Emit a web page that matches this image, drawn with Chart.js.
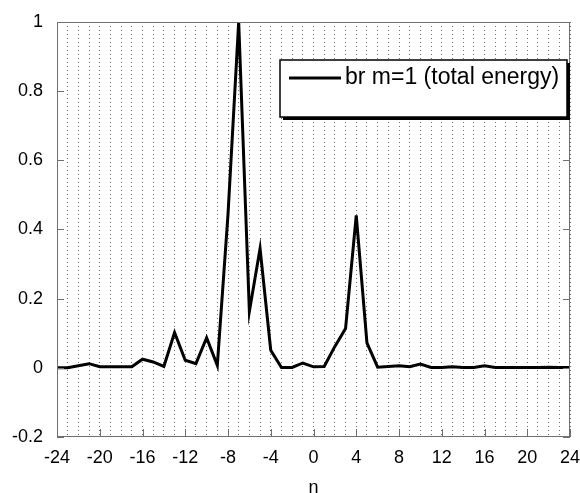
<!DOCTYPE html>
<html>
<head>
<meta charset="utf-8">
<script src="https://cdn.jsdelivr.net/npm/chart.js@4.4.1/dist/chart.umd.min.js"></script>
<style>
  html, body { margin: 0; padding: 0; background: #fff; overflow: hidden; }
  canvas { display: block; }
</style>
</head>
<body>
<canvas id="chart" width="580" height="493"></canvas>
<script>
// Energy spectrum of br, m=1, against mode number n.

const N_VALUES = [
  -24, -23, -22, -21, -20, -19, -18, -17, -16, -15, -14, -13, -12,
  -11, -10, -9, -8, -7, -6, -5, -4, -3, -2, -1, 0,
  1, 2, 3, 4, 5, 6, 7, 8, 9, 10, 11, 12,
  13, 14, 15, 16, 17, 18, 19, 20, 21, 22, 23, 24,
];
const ENERGY = [
  0.000, 0.000, 0.006, 0.012, 0.003, 0.003, 0.003, 0.003, 0.025, 0.017, 0.004, 0.102, 0.022,
  0.012, 0.087, 0.007, 0.444, 1.000, 0.163, 0.345, 0.051, 0.001, 0.001, 0.014, 0.003,
  0.004, 0.062, 0.114, 0.441, 0.072, 0.002, 0.004, 0.006, 0.003, 0.011, 0.001, 0.001,
  0.003, 0.001, 0.001, 0.006, 0.001, 0.001, 0.001, 0.001, 0.001, 0.002, 0.001, 0.001,
];
const X_LABEL_TICKS = [-24, -20, -16, -12, -8, -4, 0, 4, 8, 12, 16, 20, 24];
const Y_TICKS = [-0.2, 0, 0.2, 0.4, 0.6, 0.8, 1];
const SERIES_LABEL = "br m=1 (total energy)";

const FONT = '"Liberation Sans", Arial, sans-serif';
const FRAME = "#707070";
const GRID_DOT = "#6a6a6a";

Chart.defaults.font.family = FONT;
Chart.defaults.color = "#000";

// frame, inward tick marks and the boxed legend with its drop shadow
const framePlugin = {
  id: "frame",
  afterDatasetsDraw(chart) {
    const { ctx, chartArea: a } = chart;
    const xs = chart.scales.x, ys = chart.scales.y;
    ctx.save();
    ctx.strokeStyle = FRAME;
    ctx.lineWidth = 1;
    ctx.strokeRect(a.left + 0.5, a.top + 0.5, a.right - a.left - 1, a.bottom - a.top - 1);
    ctx.beginPath();
    Y_TICKS.forEach(v => {
      const y = Math.round(ys.getPixelForValue(v)) + 0.5;
      ctx.moveTo(a.left, y); ctx.lineTo(a.left + 7, y);
      ctx.moveTo(a.right, y); ctx.lineTo(a.right - 7, y);
    });
    X_LABEL_TICKS.forEach(v => {
      const x = Math.round(xs.getPixelForValue(v)) + 0.5;
      ctx.moveTo(x, a.bottom); ctx.lineTo(x, a.bottom - 8);
    });
    ctx.stroke();
    ctx.restore();
  },
  afterDraw(chart) {
    const { ctx } = chart;
    const bx = 280, by = 60, bw = 287, bh = 57;
    ctx.save();
    ctx.fillStyle = "#000";
    ctx.fillRect(bx + 3, by + 3, bw, bh);
    ctx.fillStyle = "#fff";
    ctx.fillRect(bx, by, bw, bh);
    ctx.strokeStyle = "#000";
    ctx.lineWidth = 1.5;
    ctx.strokeRect(bx, by, bw, bh);
    ctx.lineWidth = 3;
    ctx.beginPath();
    ctx.moveTo(bx + 9, by + 18); ctx.lineTo(bx + 61, by + 18);
    ctx.stroke();
    ctx.fillStyle = "#000";
    ctx.font = `23px ${FONT}`;
    ctx.textBaseline = "middle";
    ctx.fillText(chart.data.datasets[0].label, bx + 65, by + 18);
    ctx.restore();
  },
};

new Chart(document.getElementById("chart"), {
  type: "line",
  data: {
    datasets: [{
      label: SERIES_LABEL,
      data: N_VALUES.map((n, i) => ({ x: n, y: ENERGY[i] })),
      borderColor: "#000",
      borderWidth: 3,
      pointRadius: 0,
      tension: 0,
      fill: false,
    }],
  },
  options: {
    responsive: false,
    animation: false,
    devicePixelRatio: 1,
    layout: { padding: { top: 22, right: 10, left: 0, bottom: 0 }, autoPadding: false },
    plugins: { legend: { display: false }, tooltip: { enabled: false } },
    scales: {
      x: {
        type: "linear",
        min: -24,
        max: 24,
        border: { display: false, dash: [1, 3] },
        grid: { color: GRID_DOT, lineWidth: 1, drawTicks: false },
        ticks: {
          stepSize: 1,
          autoSkip: false,
          maxRotation: 0,
          padding: 10,
          font: { size: 18 },
          callback: v => (v % 4 === 0 ? String(v) : ""),
        },
        title: { display: true, text: "n", font: { size: 18 }, padding: { top: 0, bottom: -6 } },
        afterFit: s => { s.height = 56; s.paddingLeft = 0; s.paddingRight = 0; },
      },
      y: {
        min: -0.2,
        max: 1,
        border: { display: false },
        grid: { display: false, drawTicks: false },
        ticks: {
          stepSize: 0.2,
          padding: 14,
          font: { size: 18 },
          callback: v => String(Number(v.toFixed(1))),
        },
        afterFit: s => { s.width = 57; s.paddingTop = 0; s.paddingBottom = 0; },
      },
    },
  },
  plugins: [framePlugin],
});
</script>
</body>
</html>
